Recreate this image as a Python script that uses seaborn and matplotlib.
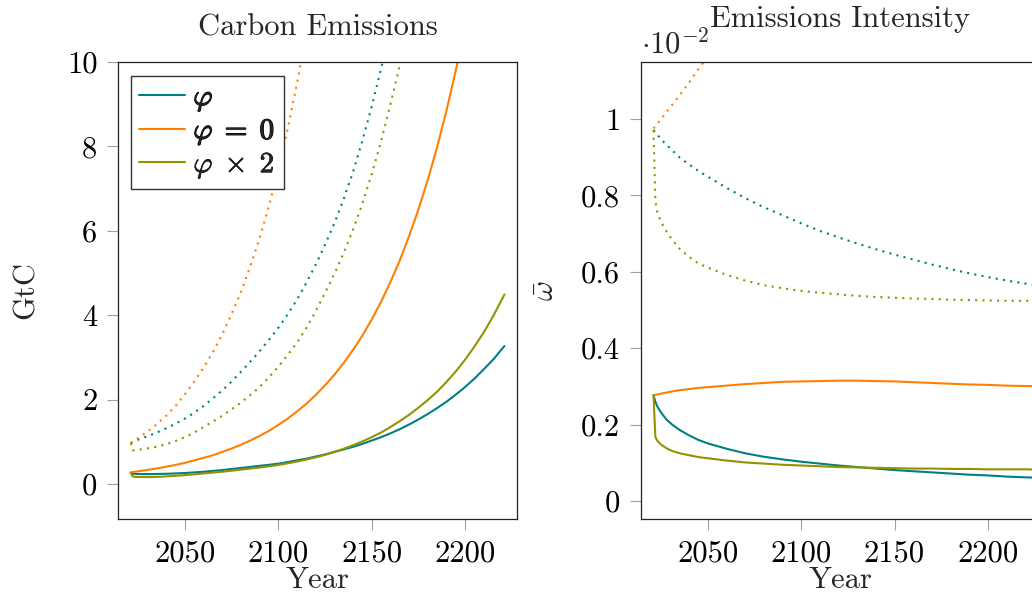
import matplotlib
matplotlib.use("Agg")
import matplotlib.pyplot as plt
import matplotlib.patheffects as pe
import seaborn as sns
from matplotlib.ticker import FixedLocator, FuncFormatter

# ---- data -------------------------------------------------------------
years = [2021, 2022, 2023, 2025, 2028, 2031, 2035, 2040, 2045,
         2050, 2055, 2060, 2065, 2070, 2075, 2080, 2085, 2090, 2095,
         2100, 2105, 2110, 2115, 2120, 2125, 2130, 2135, 2140, 2145,
         2150, 2155, 2160, 2165, 2170, 2175, 2180, 2185, 2190, 2195,
         2200, 2205, 2210, 2215, 2221]

# Carbon emissions (GtC); solid = baseline run, dotted = alternative run
emis_phi = [0.25, 0.245, 0.24, 0.237, 0.235, 0.235, 0.237, 0.242, 0.25,
            0.26, 0.274, 0.29, 0.31, 0.33, 0.355, 0.38, 0.405, 0.43, 0.455,
            0.48, 0.52, 0.56, 0.6, 0.65, 0.7, 0.76, 0.82, 0.88, 0.95,
            1.03, 1.11, 1.2, 1.3, 1.41, 1.53, 1.66, 1.8, 1.95, 2.12,
            2.3, 2.5, 2.72, 2.95, 3.27]
emis_phi0 = [0.277, 0.283, 0.289, 0.301, 0.32, 0.34, 0.369, 0.409, 0.452,
             0.5, 0.56, 0.62, 0.68, 0.76, 0.84, 0.93, 1.03, 1.14, 1.26,
             1.4, 1.55, 1.72, 1.9, 2.11, 2.34, 2.59, 2.87, 3.18, 3.52,
             3.9, 4.32, 4.79, 5.3, 5.88, 6.51, 7.21, 7.99, 8.85, 9.81,
             10.87, 12.04, 13.34, 14.78, 16.7]
emis_phi2 = [0.27, 0.18, 0.17, 0.165, 0.163, 0.164, 0.168, 0.18, 0.193,
             0.21, 0.228, 0.25, 0.27, 0.29, 0.315, 0.34, 0.365, 0.39, 0.42,
             0.45, 0.49, 0.53, 0.58, 0.63, 0.69, 0.76, 0.835, 0.92, 1.01,
             1.11, 1.22, 1.35, 1.49, 1.64, 1.81, 1.99, 2.19, 2.42, 2.67,
             2.95, 3.26, 3.6, 3.98, 4.49]
emis_phi_alt = [0.97, 0.99, 1.01, 1.05, 1.1, 1.15, 1.22, 1.32, 1.43,
                1.55, 1.69, 1.85, 2.03, 2.22, 2.43, 2.66, 2.9, 3.15, 3.42,
                3.7, 4.02, 4.37, 4.77, 5.2, 5.67, 6.18, 6.76, 7.4, 8.14,
                8.95, 9.85, 10.8, 11.85, 13.0, 14.25, 15.6, 17.1, 18.7, 20.5,
                22.5, 24.7, 27.0, 29.6, 33.0]
emis_phi0_alt = [0.97, 1.0, 1.03, 1.09, 1.18, 1.28, 1.42, 1.62, 1.85,
                 2.13, 2.43, 2.76, 3.13, 3.55, 4.03, 4.55, 5.16, 5.83, 6.6,
                 7.45, 8.42, 9.5, 10.7, 12.1, 13.7, 15.4, 17.4, 19.6, 22.2,
                 25.0, 28.3, 32.0, 36.0, 40.0, 45.5, 51.0, 58.0, 65.0, 74.0,
                 83.0, 94.0, 105.0, 119.0, 135.0]
emis_phi2_alt = [0.97, 0.8, 0.8, 0.81, 0.83, 0.85, 0.885, 0.94, 1.02,
                 1.11, 1.22, 1.35, 1.48, 1.62, 1.77, 1.93, 2.11, 2.3, 2.53,
                 2.78, 3.06, 3.35, 3.7, 4.1, 4.53, 4.98, 5.48, 6.03, 6.65,
                 7.35, 8.13, 9.0, 9.93, 10.9, 11.9, 12.9, 14.1, 15.5, 17.0,
                 18.6, 20.4, 22.3, 24.5, 27.0]

years_w = [2021, 2022, 2023, 2025, 2028, 2031, 2035, 2040, 2045, 2050,
           2060, 2070, 2080, 2090, 2100, 2110, 2120, 2130, 2140, 2150,
           2160, 2170, 2180, 2190, 2200, 2210, 2220, 2228]

# Emissions intensity, in units of 1e-2
int_phi = [0.277, 0.26, 0.248, 0.232, 0.213, 0.2, 0.186, 0.172, 0.16, 0.151,
           0.137, 0.125, 0.116, 0.109, 0.103, 0.098, 0.093, 0.089, 0.085, 0.081,
           0.078, 0.075, 0.072, 0.069, 0.067, 0.064, 0.062, 0.061]
int_phi0 = [0.277, 0.278, 0.279, 0.281, 0.284, 0.287, 0.29, 0.293, 0.296, 0.298,
            0.302, 0.306, 0.309, 0.312, 0.313, 0.314, 0.315, 0.315, 0.314, 0.313,
            0.311, 0.309, 0.307, 0.305, 0.304, 0.302, 0.301, 0.3]
int_phi2 = [0.277, 0.168, 0.158, 0.148, 0.138, 0.131, 0.125, 0.12, 0.115, 0.112,
            0.106, 0.101, 0.098, 0.095, 0.093, 0.091, 0.089, 0.088, 0.087, 0.086,
            0.085, 0.085, 0.084, 0.084, 0.083, 0.083, 0.083, 0.082]
int_phi_alt = [0.971, 0.965, 0.959, 0.947, 0.932, 0.918, 0.899, 0.881, 0.864, 0.849,
               0.82, 0.793, 0.769, 0.748, 0.727, 0.707, 0.69, 0.674, 0.659, 0.645,
               0.632, 0.619, 0.607, 0.596, 0.586, 0.577, 0.569, 0.563]
int_phi2_alt = [0.97, 0.785, 0.757, 0.73, 0.705, 0.684, 0.66, 0.639, 0.622, 0.611,
                0.592, 0.577, 0.565, 0.557, 0.55, 0.545, 0.541, 0.537, 0.534, 0.532,
                0.53, 0.529, 0.527, 0.526, 0.525, 0.524, 0.524, 0.523]
int_phi0_alt = [0.975, 0.981, 0.987, 0.999, 1.018, 1.037, 1.062, 1.095, 1.13, 1.163, 1.23]

labels = [r"$\varphi$", r"$\varphi\;=\;0$", r"$\varphi\;\times\;2$"]
x_ticks = [2050, 2100, 2150, 2200]
emis_ticks = [0, 2, 4, 6, 8, 10]
int_ticks = [0, 0.2, 0.4, 0.6, 0.8, 1]

# ---- style ------------------------------------------------------------
sns.set_theme(style="white")
plt.rcParams.update({
    "font.family": ["cmr10"],
    "mathtext.fontset": "cm",
    "axes.formatter.use_mathtext": True,
    "axes.unicode_minus": False,
})

TEAL, ORANGE, OLIVE = "#008080", "#ff8000", "#939300"
colors = [TEAL, ORANGE, OLIVE]
DOT = (0, (1, 2.5))
FS = 22

fig = plt.figure(figsize=(10.32, 6.0), dpi=100)
ax1 = fig.add_axes([0.1146, 0.135, 0.3867, 0.7617])
ax2 = fig.add_axes([0.6211, 0.135, 0.3867, 0.7617])


def style_axes(ax):
    for s in ax.spines.values():
        s.set_color("#222222")
        s.set_linewidth(0.9)
    ax.tick_params(axis="both", which="major", direction="out", length=8,
                   width=0.8, color="#a0a0a0", labelcolor="black",
                   labelsize=FS, pad=7, bottom=True, left=True,
                   top=False, right=False)
    ax.xaxis.set_major_locator(FixedLocator(x_ticks))
    ax.xaxis.set_major_formatter(FuncFormatter(lambda v, p: f"{v:g}"))
    ax.yaxis.set_major_formatter(FuncFormatter(lambda v, p: f"{v:g}"))
    ax.set_xlim(2014.3, 2227.9)


# Left panel: carbon emissions
for vals, c, lab in zip([emis_phi, emis_phi0, emis_phi2], colors, labels):
    sns.lineplot(x=years, y=vals, ax=ax1, color=c, lw=1.5, label=lab)
for vals, c in zip([emis_phi_alt, emis_phi0_alt, emis_phi2_alt], colors):
    sns.lineplot(x=years, y=vals, ax=ax1, color=c, lw=1.5, linestyle=DOT,
                 dash_capstyle="butt")
style_axes(ax1)
ax1.set_ylim(-0.83, 10)
ax1.yaxis.set_major_locator(FixedLocator(emis_ticks))
ax1.set_title("Carbon Emissions", fontsize=FS, pad=19)
ax1.set_xlabel("Year", fontsize=FS)
ax1.set_ylabel("GtC", fontsize=FS)
ax1.xaxis.set_label_coords(0.5, -0.105)
ax1.yaxis.set_label_coords(-0.198, 0.5)
leg = ax1.legend(loc="upper left", bbox_to_anchor=(0.031, 0.969),
                 borderaxespad=0, fontsize=21, frameon=True, fancybox=False,
                 framealpha=1, edgecolor="#333333", handlelength=1.55,
                 handletextpad=0.3, labelspacing=0.12, borderpad=0.3)
leg.get_frame().set_linewidth(1.0)
# heavier strokes for the bold legend symbols
for t, w in zip(leg.get_texts(), [0.9, 0.9, 0.5]):
    t.set_path_effects([pe.withStroke(linewidth=w, foreground="black")])

# Right panel: emissions intensity
for vals, c in zip([int_phi, int_phi0, int_phi2], colors):
    sns.lineplot(x=years_w, y=vals, ax=ax2, color=c, lw=1.5)
sns.lineplot(x=years_w, y=int_phi_alt, ax=ax2, color=TEAL, lw=1.5,
             linestyle=DOT, dash_capstyle="butt")
sns.lineplot(x=years_w[:len(int_phi0_alt)], y=int_phi0_alt, ax=ax2,
             color=ORANGE, lw=1.5, linestyle=DOT, dash_capstyle="butt")
sns.lineplot(x=years_w, y=int_phi2_alt, ax=ax2, color=OLIVE, lw=1.5,
             linestyle=DOT, dash_capstyle="butt")
style_axes(ax2)
ax2.set_ylim(-0.047, 1.149)
ax2.yaxis.set_major_locator(FixedLocator(int_ticks))
ax2.set_title("Emissions Intensity", fontsize=FS, pad=25)
ax2.set_xlabel("Year", fontsize=FS)
ax2.set_ylabel(r"$\bar{\omega}$", fontsize=FS)
ax2.xaxis.set_label_coords(0.5, -0.105)
ax2.yaxis.set_label_coords(-0.203, 0.5)
ax2.text(0.0, 1.02, r"$\cdot 10^{-2}$", transform=ax2.transAxes,
         fontsize=FS, ha="left", va="baseline")

fig.savefig("out.png", dpi=100)
